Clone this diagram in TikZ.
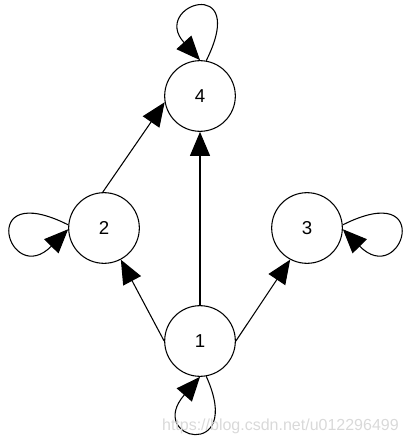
\documentclass[tikz,border=0pt]{standalone}
\usepackage{fontspec}
\setmainfont{Liberation Sans}
\usetikzlibrary{arrows.meta}
\begin{document}
\begin{tikzpicture}[x=0.75pt,y=-0.75pt,
  vnode/.style={circle,draw,line width=0.8pt,minimum size=53pt,inner sep=0pt,font=\fontsize{14}{16}\selectfont},
  arc/.style={line width=0.8pt,-{Triangle[length=18pt,width=15pt]}}]
\useasboundingbox (0,0) rectangle (409,441);
\node[vnode] (n4) at (200,96) {4};
\node[vnode] (n2) at (104,228) {2};
\node[vnode] (n3) at (307,228) {3};
\node[vnode] (n1) at (200,341) {1};
\draw[arc] (n1.north) -- (n4.south);
\draw[arc] (n1.west) -- (n2.-62);
\draw[arc] (n1.east) -- (n3.-118);
\draw[arc] (n2.92) -- (n4.190);
\draw[arc] (n4.80) .. controls (250,-27) and (150,5) .. (n4.north);
\draw[arc] (n2.175) .. controls (-25,178) and (9,289) .. (n2.182);
\draw[arc] (n3.5) .. controls (436,178) and (402,289) .. (n3.-2);
\draw[arc] (n1.-80) .. controls (245,462) and (145,440) .. (n1.south);
\node[anchor=base east,text=black!15,font=\fontsize{12}{14}\selectfont,inner sep=0pt] (wm) at (399,430) {https://blog.csdn.net/u012296499};
\end{tikzpicture}
\end{document}
